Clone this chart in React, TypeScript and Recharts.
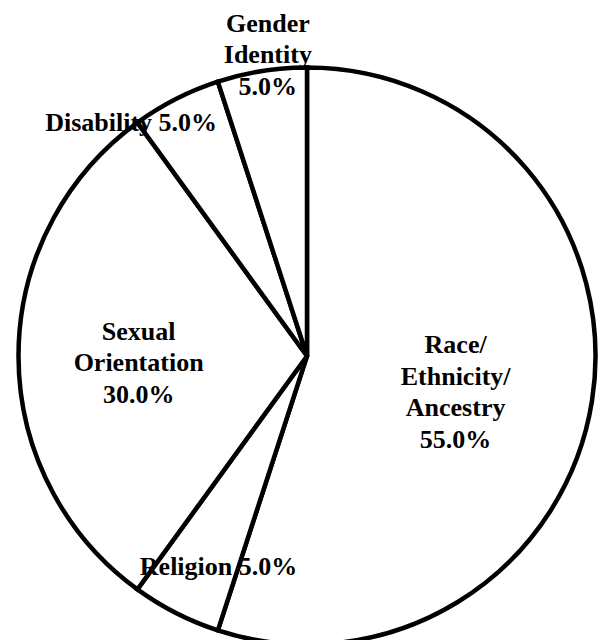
import React from 'react';
import { PieChart, Pie, Cell } from 'recharts';

const categories = ['Race/Ethnicity/Ancestry', 'Religion', 'Sexual Orientation', 'Disability', 'Gender Identity'];
const labelLines = [
  ['Race/', 'Ethnicity/', 'Ancestry'],
  ['Religion'],
  ['Sexual', 'Orientation'],
  ['Disability'],
  ['Gender', 'Identity'],
];
const values = [55, 5, 30, 5, 5];
const inlinePercent = [false, true, false, true, false];

const data = categories.map((name, i) => ({ name, value: values[i] }));
const total = values.reduce((a, b) => a + b, 0);

// label placement: [radius factor, angle shift in degrees] relative to slice mid-angle
const labelPlacement: [number, number][] = [
  [0.53, -4.6],
  [0.791, 4.2],
  [0.584, 2.2],
  [1.013, 10],
  [1.054, -1.6],
];

const FONT_SIZE = 26;
const LINE_H = 31.5;
const RAD = Math.PI / 180;

const renderLabel = (props: any) => {
  const { cx, cy, midAngle, outerRadius, index, value } = props;
  const [f, shift] = labelPlacement[index];
  const a = (midAngle + shift) * RAD;
  const x = cx + outerRadius * f * Math.cos(a);
  const y = cy - outerRadius * f * Math.sin(a);
  const pct = ((value / total) * 100).toFixed(1) + '%';
  let lines: string[];
  if (inlinePercent[index]) {
    lines = [labelLines[index][0] + ' ' + pct];
  } else {
    lines = [...labelLines[index], pct];
  }
  const n = lines.length;
  const firstBaseline = y - ((n - 1) * LINE_H) / 2 + FONT_SIZE * 0.33;
  return (
    <text
      key={`lbl-${index}`}
      x={x}
      y={firstBaseline}
      textAnchor="middle"
      fontFamily="'Liberation Serif', 'Times New Roman', serif"
      fontWeight="bold"
      fontSize={FONT_SIZE}
      fill="#000"
    >
      {lines.map((l, i) => (
        <tspan key={i} x={x} y={firstBaseline + i * LINE_H}>
          {l}
        </tspan>
      ))}
    </text>
  );
};

export default function App() {
  return (
    <div style={{ position: 'absolute', left: 0, top: 0, width: 599, height: 640, background: '#fff' }}>
      <PieChart width={599} height={640} margin={{ top: 0, right: 0, bottom: 0, left: 0 }}>
        <Pie
          data={data}
          dataKey="value"
          nameKey="name"
          cx={307}
          cy={356}
          outerRadius={288.5}
          startAngle={90}
          endAngle={-270}
          stroke="#000"
          strokeWidth={4.5}
          label={renderLabel}
          labelLine={false}
          isAnimationActive={false}
        >
          {data.map((d, i) => (
            <Cell key={i} fill="#ffffff" stroke="#000" strokeWidth={4.5} />
          ))}
        </Pie>
      </PieChart>
    </div>
  );
}
